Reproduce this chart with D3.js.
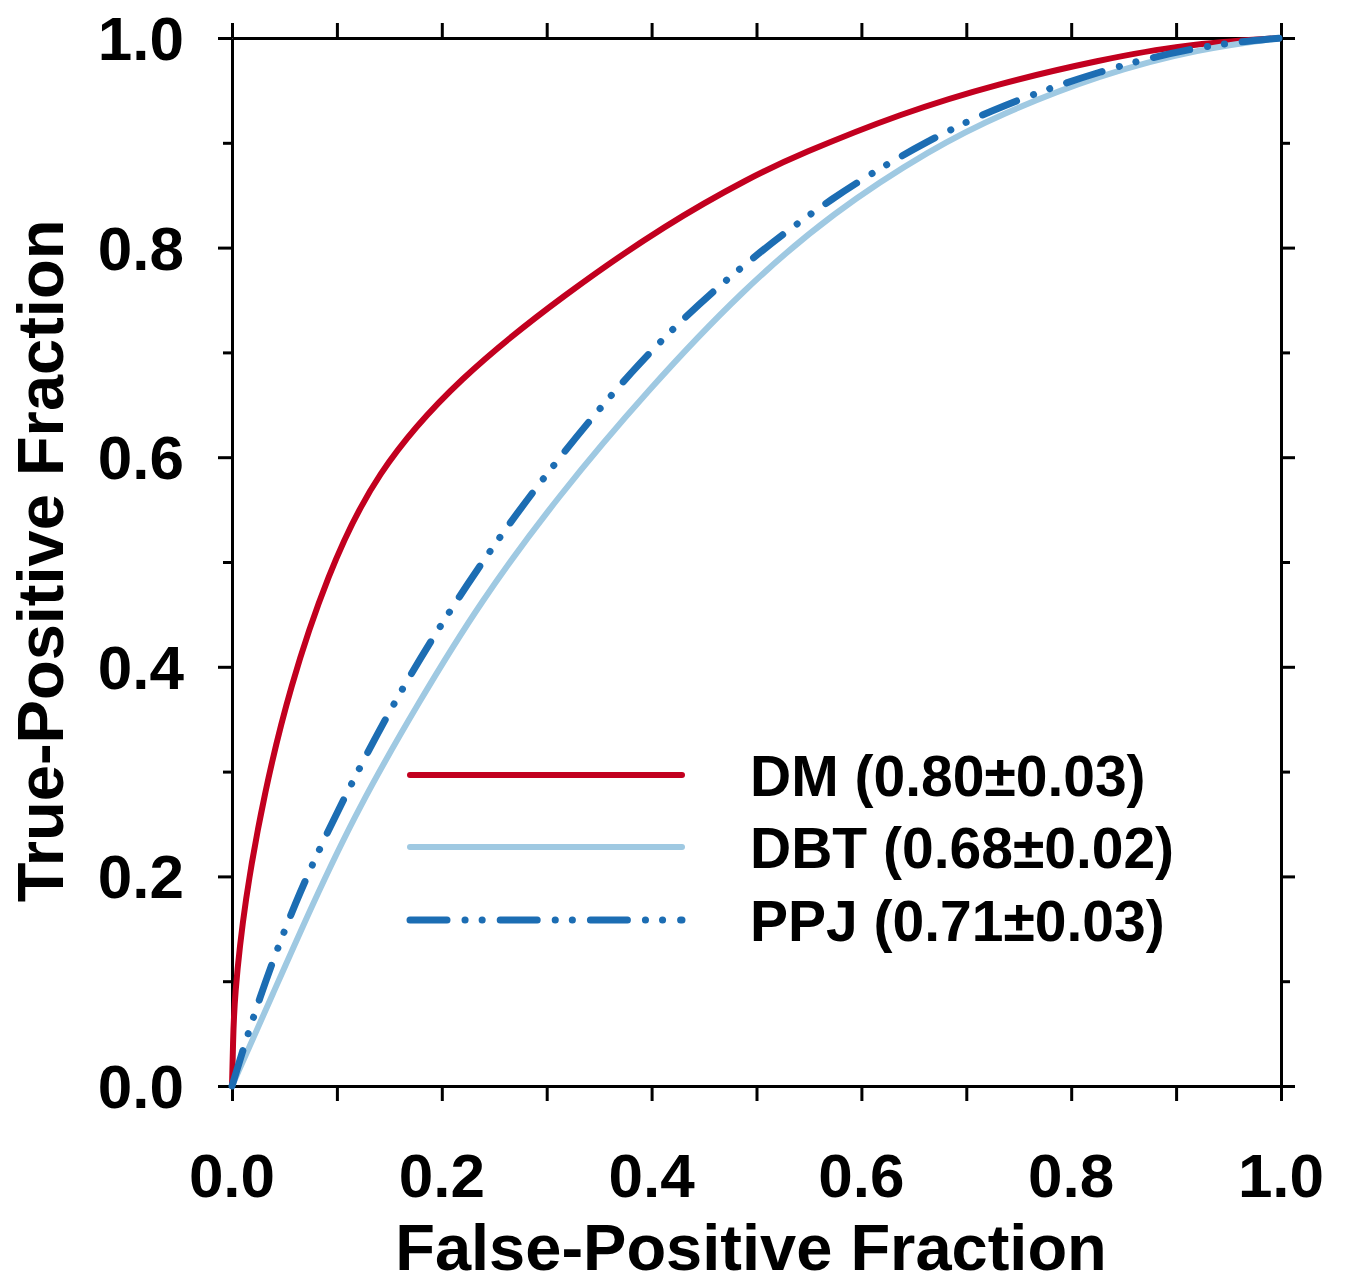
<!DOCTYPE html>
<html>
<head>
  <meta charset="utf-8" />
  <title>ROC curves</title>
  <script src="https://cdn.jsdelivr.net/npm/d3@7"></script>
  <style>
    body { margin: 0; background: #fff; }
    svg text { font-family: "Liberation Sans", Arial, sans-serif; font-weight: bold; fill: #000; }
  </style>
</head>
<body>
  <div id="chart"></div>
  <script>
    // ROC curves: [FPF, TPF]
    const dmPoints = [
      [0, 0], [0.001, 0.04], [0.002, 0.082], [0.012, 0.177], [0.031, 0.281], [0.055, 0.38],
      [0.0905, 0.487], [0.136, 0.585], [0.216, 0.676], [0.319, 0.757], [0.415, 0.823],
      [0.494, 0.867], [0.541, 0.889], [0.637, 0.928], [0.732, 0.957], [0.827, 0.979],
      [0.907, 0.994], [1, 1]
    ];
    const dbtPoints = [
      [0, 0], [0.039, 0.088], [0.076, 0.172], [0.120, 0.265], [0.179, 0.368],
      [0.236, 0.461], [0.310, 0.562], [0.398, 0.666], [0.487, 0.760], [0.573, 0.834],
      [0.668, 0.895], [0.732, 0.927], [0.827, 0.965], [0.923, 0.990], [1, 1]
    ];
    const ppjPoints = [
      [0, 0], [0.025, 0.082], [0.060, 0.176], [0.100, 0.262], [0.160, 0.378],
      [0.225, 0.481], [0.287, 0.569], [0.382, 0.686], [0.468, 0.769], [0.573, 0.850],
      [0.668, 0.905], [0.732, 0.935], [0.827, 0.969], [0.923, 0.993], [1, 1]
    ];
    const seriesNames = ["DM (0.80\u00b10.03)", "DBT (0.68\u00b10.02)", "PPJ (0.71\u00b10.03)"];
    const tickValues = [0, 0.1, 0.2, 0.3, 0.4, 0.5, 0.6, 0.7, 0.8, 0.9, 1.0];
    const tickLabels = ["0.0", "0.2", "0.4", "0.6", "0.8", "1.0"];

    const W = 1345, H = 1284;
    const plotL = 232, plotR = 1281, plotT = 38, plotB = 1086;

    const svg = d3.select("#chart").append("svg")
      .attr("width", W).attr("height", H);

    const x = d3.scaleLinear().domain([0, 1]).range([plotL, plotR]);
    const y = d3.scaleLinear().domain([0, 1]).range([plotB, plotT]);

    const series = [
      { name: seriesNames[0], pts: dmPoints, color: "#c2001f", width: 6, dash: null },
      { name: seriesNames[1], pts: dbtPoints, color: "#9fc9e2", width: 6, dash: null },
      { name: seriesNames[2], pts: ppjPoints, color: "#1c6db3", width: 7, dash: "37 18 0.1 17 0.1 18" }
    ];

    // axes, ticks pointing outward
    function styleAxis(g) {
      g.selectAll("path.domain").attr("stroke", "#000").attr("stroke-width", 3);
      g.selectAll(".tick line").attr("stroke", "#000").attr("stroke-width", 3);
      g.selectAll(".tick text").remove();
    }
    svg.append("g").attr("transform", `translate(0,${plotB})`)
      .call(d3.axisBottom(x).tickValues(tickValues).tickSize(15).tickSizeOuter(0)).call(styleAxis);
    svg.append("g").attr("transform", `translate(0,${plotT})`)
      .call(d3.axisTop(x).tickValues(tickValues).tickSize(15).tickSizeOuter(0)).call(styleAxis);

    const yl = svg.append("g").attr("transform", `translate(${plotL},0)`)
      .call(d3.axisLeft(y).tickValues(tickValues).tickSize(9).tickSizeOuter(0)).call(styleAxis);
    const yr = svg.append("g").attr("transform", `translate(${plotR},0)`)
      .call(d3.axisRight(y).tickValues(tickValues).tickSize(9).tickSizeOuter(0)).call(styleAxis);
    // major ticks on y are longer
    yl.selectAll(".tick line").attr("x2", (d, i) => i % 2 === 0 ? -14 : -9);
    yr.selectAll(".tick line").attr("x2", (d, i) => i % 2 === 0 ? 14 : 9);

    // tick labels
    const major = tickValues.filter((d, i) => i % 2 === 0);
    svg.append("g").selectAll("text").data(major).join("text")
      .attr("x", d => x(d)).attr("y", 1197)
      .attr("text-anchor", "middle").attr("font-size", 62)
      .text((d, i) => tickLabels[i]);
    svg.append("g").selectAll("text").data(major).join("text")
      .attr("x", 184).attr("y", d => y(d) + 22)
      .attr("text-anchor", "end").attr("font-size", 62)
      .text((d, i) => tickLabels[i]);

    // axis titles
    svg.append("text").attr("x", 751).attr("y", 1270)
      .attr("text-anchor", "middle").attr("font-size", 65)
      .text("False-Positive Fraction");
    svg.append("text").attr("transform", "translate(63,561) rotate(-90)")
      .attr("text-anchor", "middle").attr("font-size", 65)
      .text("True-Positive Fraction");

    // curves (b-spline to smooth out reading noise)
    const line = d3.line().x(d => x(d[0])).y(d => y(d[1])).curve(d3.curveBasis);
    series.forEach(s => {
      svg.append("path").datum(s.pts)
        .attr("d", line)
        .attr("fill", "none")
        .attr("stroke", s.color)
        .attr("stroke-width", s.width)
        .attr("stroke-linecap", s.dash ? "round" : "butt")
        .attr("stroke-dasharray", s.dash);
    });

    // legend
    const legendY = [775, 847, 920];
    series.forEach((s, i) => {
      svg.append("line")
        .attr("x1", 410).attr("x2", 682)
        .attr("y1", legendY[i]).attr("y2", legendY[i])
        .attr("stroke", s.color).attr("stroke-width", s.width)
        .attr("stroke-linecap", "round")
        .attr("stroke-dasharray", s.dash);
      svg.append("text")
        .attr("x", 750).attr("y", legendY[i] + 21)
        .attr("font-size", 57)
        .text(s.name);
    });
  </script>
</body>
</html>
